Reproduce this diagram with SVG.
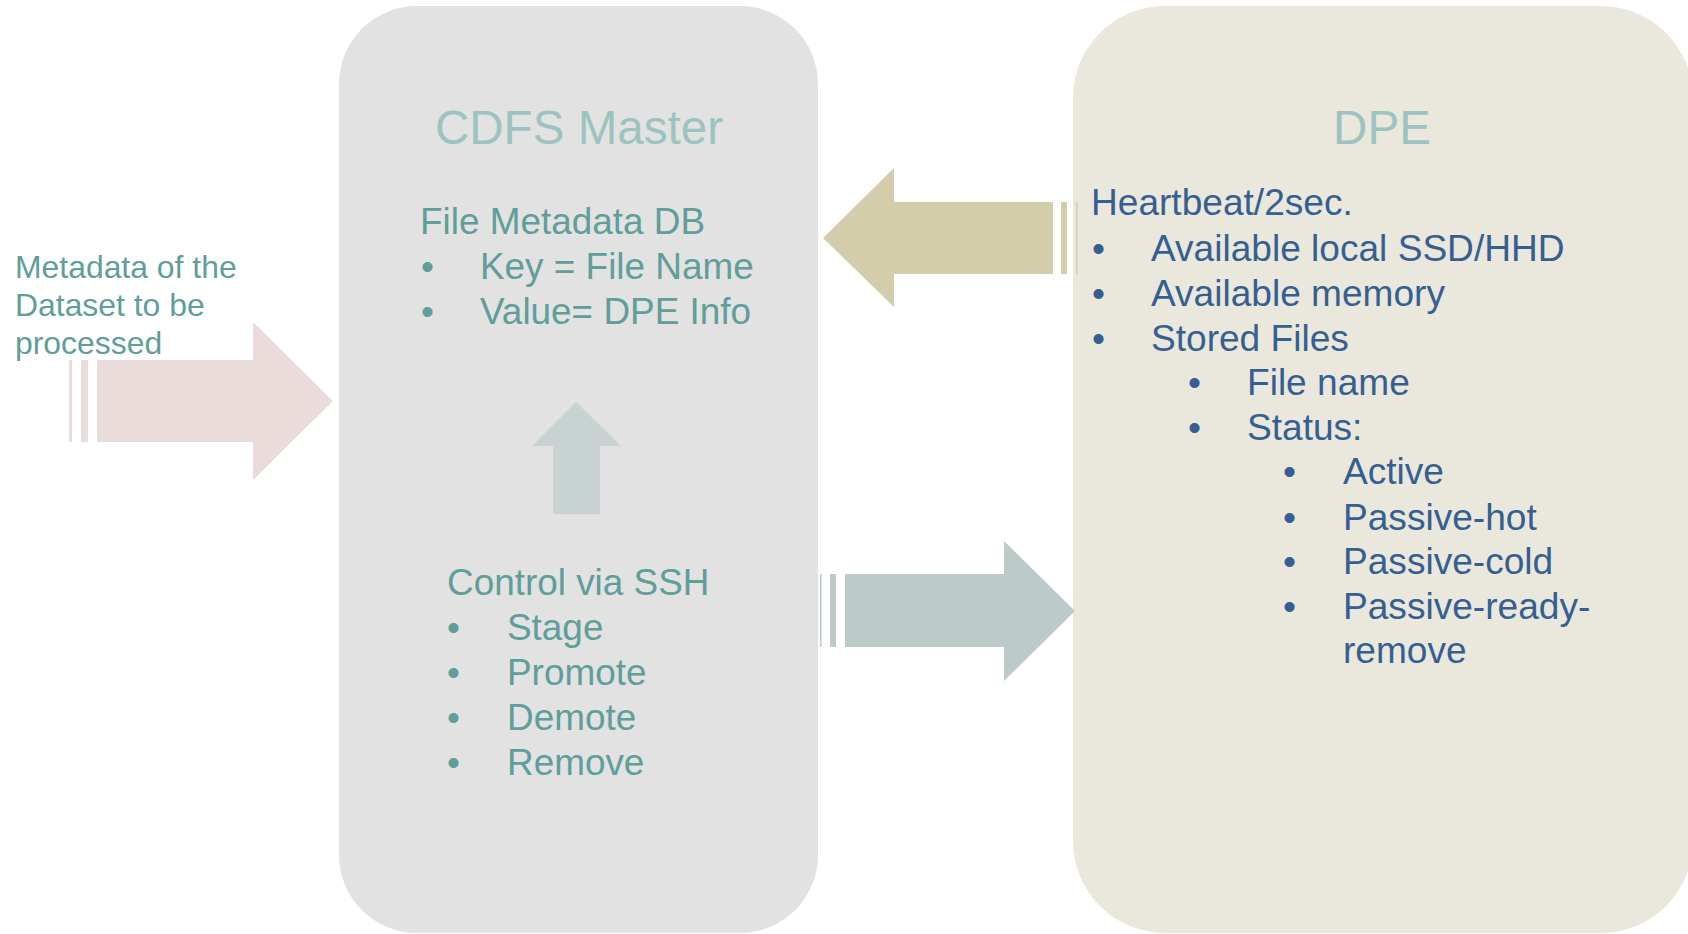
<svg xmlns="http://www.w3.org/2000/svg" width="1688" height="934" viewBox="0 0 1688 934">
<style>
text{font-family:"Liberation Sans",Arial,sans-serif}
.title{font-size:47.6px;fill:#9DC3C1;text-anchor:middle}
.teal{font-size:36.9px;fill:#5F9E9A}
.blue{font-size:37.1px;fill:#365F91}
.side{font-size:31.9px;fill:#5F9E9A}
</style>
<rect width="1688" height="934" fill="#FFFFFF"/>
<g id="cdfs-master">
<rect x="339" y="6" width="479" height="927" rx="78" ry="78" fill="#E2E2E2"/>
<text class="title" x="579" y="144">CDFS Master</text>
<text class="teal" x="420" y="234">File Metadata DB</text>
<text class="teal" x="421" y="279">•</text><text class="teal" x="480" y="279">Key = File Name</text>
<text class="teal" x="421" y="324">•</text><text class="teal" x="480" y="324">Value= DPE Info</text>
<text class="teal" x="447" y="595">Control via SSH</text>
<text class="teal" x="447" y="640">•</text><text class="teal" x="507" y="640">Stage</text>
<text class="teal" x="447" y="685">•</text><text class="teal" x="507" y="685">Promote</text>
<text class="teal" x="447" y="730">•</text><text class="teal" x="507" y="730">Demote</text>
<text class="teal" x="447" y="775">•</text><text class="teal" x="507" y="775">Remove</text>
</g>
<g id="dpe">
<rect x="1073" y="6" width="620" height="927" rx="92" ry="92" fill="#EAE8DC"/>
<text class="title" x="1382" y="144">DPE</text>
<text class="blue" x="1091" y="215">Heartbeat/2sec.</text>
<text class="blue" x="1092" y="261">•</text><text class="blue" x="1151" y="261">Available local SSD/HHD</text>
<text class="blue" x="1092" y="306">•</text><text class="blue" x="1151" y="306">Available memory</text>
<text class="blue" x="1092" y="351">•</text><text class="blue" x="1151" y="351">Stored Files</text>
<text class="blue" x="1188" y="395">•</text><text class="blue" x="1247" y="395">File name</text>
<text class="blue" x="1188" y="440">•</text><text class="blue" x="1247" y="440">Status:</text>
<text class="blue" x="1283" y="484">•</text><text class="blue" x="1343" y="484">Active</text>
<text class="blue" x="1283" y="530">•</text><text class="blue" x="1343" y="530">Passive-hot</text>
<text class="blue" x="1283" y="574">•</text><text class="blue" x="1343" y="574">Passive-cold</text>
<text class="blue" x="1283" y="619">•</text><text class="blue" x="1343" y="619">Passive-ready-</text>
<text class="blue" x="1343" y="663">remove</text>
</g>
<g id="input-label">
<text class="side" x="15" y="278">Metadata of the</text>
<text class="side" x="15" y="316">Dataset to be</text>
<text class="side" x="15" y="354">processed</text>
</g>
<g id="connectors">
<g id="input-arrow" fill="#EBDCDC">
<rect x="69" y="360" width="3" height="82"/>
<rect x="81" y="360" width="7" height="82"/>
<polygon points="97,360 253,360 253,322 333,401 253,480 253,442 97,442"/>
</g>
<g id="heartbeat-arrow" fill="#D3CDAB">
<polygon points="1053,202 894,202 894,168 823,238 894,307 894,274 1053,274"/>
<rect x="1061" y="202" width="6" height="72"/>
<rect x="1076" y="202" width="1.5" height="72"/>
</g>
<g id="control-arrow" fill="#BDCACA">
<rect x="820" y="574" width="1.5" height="73"/>
<rect x="830" y="574" width="6" height="73"/>
<polygon points="845,574 1004,574 1004,541 1075,611 1004,681 1004,647 845,647"/>
</g>
<g id="internal-arrow" fill="#C9D2D2">
<polygon points="553,514 553,446 532,446 576,402 621,446 600,446 600,514"/>
</g>
</g>
</svg>
